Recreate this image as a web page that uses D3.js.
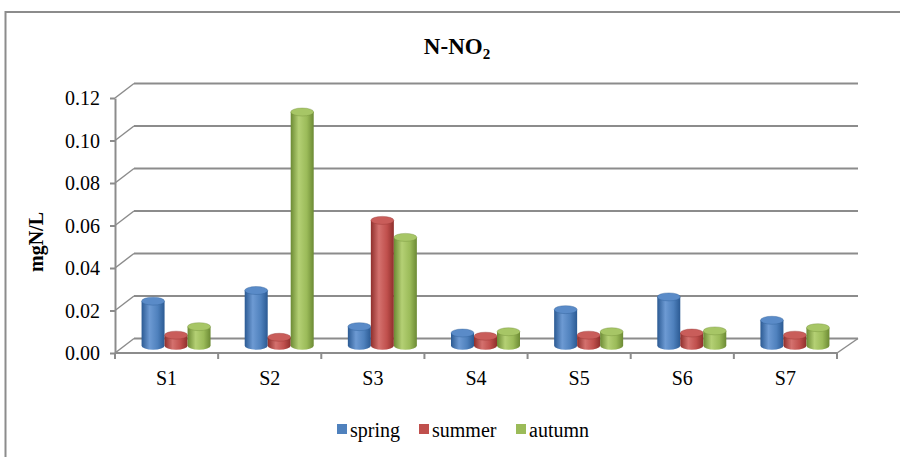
<!DOCTYPE html>
<html>
<head>
<meta charset="utf-8">
<script src="https://cdn.jsdelivr.net/npm/d3@7"></script>
<style>
	body { margin: 0; background: #fff; }
	text { font-family: "Liberation Serif", "Times New Roman", serif; fill: #000; }
</style>
</head>
<body>
<div id="chart-area"></div>
<script>

// data
let stations = ["S1", "S2", "S3", "S4", "S5", "S6", "S7"];
let seasons = ["spring", "summer", "autumn"];
let spring = [0.021, 0.026, 0.009, 0.006, 0.017, 0.023, 0.012];
let summer = [0.005, 0.004, 0.059, 0.0045, 0.005, 0.006, 0.005];
let autumn = [0.009, 0.110, 0.051, 0.0066, 0.0066, 0.007, 0.0085];
let yTicks = [0, 0.02, 0.04, 0.06, 0.08, 0.10, 0.12];

let seriesValues = {spring: spring, summer: summer, autumn: autumn};

// base colours + shades for cylinders
let colors = {
	spring: {base: "#4F81BD", dark: "#2b5a93", light: "#6d9ad3", top: "#5a8bc8"},
	summer: {base: "#C0504D", dark: "#8f2f2c", light: "#d4716e", top: "#c95d5a"},
	autumn: {base: "#9BBB59", dark: "#6c8a34", light: "#b4d074", top: "#a7c666"}
};

let width = 900, height = 457;
let serif = "'Liberation Serif', 'Times New Roman', serif";

// depth offset of the back wall
let depthX = 19, depthY = -14.5;

let svg = d3.select("#chart-area").append("svg")
	.attr("width", width)
	.attr("height", height);

// gradients for cylinder bodies
let defs = svg.append("defs");
seasons.forEach(function(s) {
	let c = colors[s];
	let g = defs.append("linearGradient")
		.attr("id", "grad-" + s)
		.attr("x1", "0%").attr("x2", "100%")
		.attr("y1", "0%").attr("y2", "0%");
	g.append("stop").attr("offset", "0%").attr("stop-color", c.dark);
	g.append("stop").attr("offset", "35%").attr("stop-color", c.light);
	g.append("stop").attr("offset", "70%").attr("stop-color", c.base);
	g.append("stop").attr("offset", "100%").attr("stop-color", c.dark);
});

// outer border
svg.append("rect")
	.attr("x", 5.5).attr("y", 12)
	.attr("width", 905).attr("height", 460)
	.attr("fill", "none")
	.attr("stroke", "#8c8c8c")
	.attr("stroke-width", 2);

// scales (front plane)
let x = d3.scaleBand()
	.domain(stations)
	.range([115, 837]);

let y = d3.scaleLinear()
	.domain([0, 0.12])
	.range([353, 98]);

let xs = d3.scaleBand()
	.domain(seasons)
	.range([-34.5, 34.5]);

let gridColor = "#8c8c8c";

// back wall gridlines + side wall diagonals
let grid = svg.append("g").attr("class", "grid");
yTicks.forEach(function(t) {
	grid.append("line")
		.attr("x1", x.range()[0] + depthX).attr("x2", 858)
		.attr("y1", y(t) + depthY).attr("y2", y(t) + depthY)
		.attr("stroke", gridColor).attr("stroke-width", 2);
	grid.append("line")
		.attr("x1", x.range()[0]).attr("x2", x.range()[0] + depthX)
		.attr("y1", y(t)).attr("y2", y(t) + depthY)
		.attr("stroke", gridColor).attr("stroke-width", 1.5);
});

// floor: front edge and right edge
grid.append("line")
	.attr("x1", x.range()[0]).attr("x2", x.range()[1])
	.attr("y1", y(0)).attr("y2", y(0))
	.attr("stroke", gridColor).attr("stroke-width", 2);
grid.append("line")
	.attr("x1", x.range()[1]).attr("x2", 858)
	.attr("y1", y(0)).attr("y2", y(0) + depthY)
	.attr("stroke", gridColor).attr("stroke-width", 1.5);

// y axis (front)
let yAxis = svg.append("g")
	.attr("class", "yaxis")
	.attr("transform", "translate(" + x.range()[0] + ",0)")
	.call(d3.axisLeft(y).tickValues(yTicks).tickFormat(d3.format(".2f")).tickSize(5).tickSizeOuter(0));
yAxis.attr("font-family", null);
yAxis.select(".domain").attr("stroke", gridColor).attr("stroke-width", 2);
yAxis.selectAll(".tick line").attr("stroke", gridColor).attr("stroke-width", 2);
yAxis.selectAll(".tick text")
	.attr("x", -15)
	.attr("dy", "0.34em")
	.style("font-family", serif)
	.style("font-size", "20px")
	.attr("fill", "#000");

// x axis ticks + labels
let xAxis = svg.append("g")
	.attr("class", "xaxis")
	.attr("transform", "translate(0," + y(0) + ")");
xAxis.selectAll(".xtick")
	.data(stations.concat(["end"]))
	.enter()
	.append("line")
	.attr("x1", (d, i) => i < stations.length ? x(d) : x.range()[1])
	.attr("x2", (d, i) => i < stations.length ? x(d) : x.range()[1])
	.attr("y1", 0).attr("y2", 6)
	.attr("stroke", gridColor).attr("stroke-width", 2);
xAxis.selectAll(".xlabel")
	.data(stations)
	.enter()
	.append("text")
	.attr("x", d => x(d) + x.bandwidth() / 2)
	.attr("y", 32)
	.attr("text-anchor", "middle")
	.style("font-family", serif)
	.style("font-size", "20px")
	.text(d => d);

// cylinders, placed at mid depth
let rx = xs.bandwidth() / 2, ry = 4;
let bars = svg.append("g").attr("class", "bars");

stations.forEach(function(st, i) {
	seasons.forEach(function(s) {
		let v = seriesValues[s][i];
		let cx = x(st) + x.bandwidth() / 2 + xs(s) + rx + depthX / 2;
		let yb = y(0) + depthY / 2;
		let yt = y(v) + depthY / 2;
		let c = colors[s];
		let g = bars.append("g");
		g.append("path")
			.attr("d", "M" + (cx - rx) + "," + yt +
				"L" + (cx - rx) + "," + yb +
				"A" + rx + "," + ry + " 0 0 0 " + (cx + rx) + "," + yb +
				"L" + (cx + rx) + "," + yt + "Z")
			.attr("fill", "url(#grad-" + s + ")");
		g.append("ellipse")
			.attr("cx", cx).attr("cy", yt)
			.attr("rx", rx).attr("ry", ry)
			.attr("fill", c.top)
			.attr("stroke", c.dark)
			.attr("stroke-width", 0.6)
			.attr("stroke-opacity", 0.6);
	});
});

// title
let title = svg.append("text")
	.attr("x", 457).attr("y", 54)
	.attr("text-anchor", "middle")
	.style("font-family", serif)
	.style("font-size", "23px")
	.style("font-weight", "bold");
title.append("tspan").text("N-NO");
title.append("tspan").attr("dy", 5).style("font-size", "15px").text("2");

// y axis title
svg.append("text")
	.attr("transform", "translate(43,242) rotate(-90)")
	.attr("text-anchor", "middle")
	.style("font-family", serif)
	.style("font-size", "20px")
	.style("font-weight", "bold")
	.text("mgN/L");

// legend
let legendX = [337, 419, 516];
let legend = svg.append("g").attr("class", "legend");
seasons.forEach(function(s, i) {
	legend.append("rect")
		.attr("x", legendX[i]).attr("y", 424)
		.attr("width", 10).attr("height", 10)
		.attr("fill", colors[s].base);
	legend.append("text")
		.attr("x", legendX[i] + 13).attr("y", 437)
		.style("font-family", serif)
		.style("font-size", "20px")
		.text(s);
});

</script>
</body>
</html>
